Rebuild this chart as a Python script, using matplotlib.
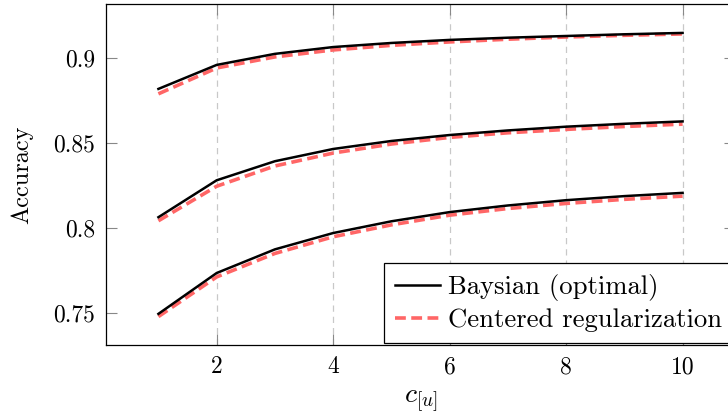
import matplotlib
matplotlib.use("Agg")
import matplotlib.pyplot as plt

plt.rcParams['font.family'] = 'serif'
plt.rcParams['font.serif'] = ['cmr10']
plt.rcParams['mathtext.fontset'] = 'cm'
plt.rcParams['axes.unicode_minus'] = False
plt.rcParams['axes.formatter.use_mathtext'] = True

x = [1, 2, 3, 4, 5, 6, 7, 8, 9, 10]
bayes_top = [0.8818, 0.8959, 0.9024, 0.9064, 0.9088, 0.9106, 0.9119, 0.9129, 0.9139, 0.9147]
reg_top = [0.8789, 0.8941, 0.9006, 0.9047, 0.9074, 0.9094, 0.9110, 0.9123, 0.9133, 0.9141]
bayes_mid = [0.8064, 0.8281, 0.8393, 0.8465, 0.8512, 0.8547, 0.8574, 0.8596, 0.8613, 0.8627]
reg_mid = [0.8043, 0.8246, 0.8365, 0.8441, 0.8494, 0.8533, 0.8560, 0.8580, 0.8597, 0.8611]
bayes_bot = [0.7496, 0.7736, 0.7875, 0.7971, 0.8040, 0.8094, 0.8133, 0.8164, 0.8188, 0.8207]
reg_bot = [0.7480, 0.7713, 0.7851, 0.7949, 0.8019, 0.8076, 0.8115, 0.8145, 0.8169, 0.8188]

xticks = [2, 4, 6, 8, 10]
xtick_labels = ["2", "4", "6", "8", "10"]
yticks = [0.75, 0.8, 0.85, 0.9]
ytick_labels = ["0.75", "0.8", "0.85", "0.9"]

FS = 17
LFS = 19.2
black = "#000000"
red = "#ff6666"

fig = plt.figure(figsize=(7.28, 4.16), dpi=100)
ax = fig.add_axes([106/728, 1-345/416, (735-106)/728, (345-4)/416])

for i, (b, r) in enumerate([(bayes_top, reg_top), (bayes_mid, reg_mid), (bayes_bot, reg_bot)]):
    ax.plot(x, b, color=black, lw=1.8, zorder=4,
            label="Baysian (optimal)" if i == 0 else None)
    ax.plot(x, r, color=red, lw=2.6, dashes=(3, 1.5), zorder=3,
            label="Centered regularization" if i == 0 else None)

ax.set_xlim(0.1, 10.9)
ax.set_ylim(0.7313, 0.9317)
ax.set_xticks(xticks)
ax.set_xticklabels(xtick_labels)
ax.set_yticks(yticks)
ax.set_yticklabels(ytick_labels)
ax.tick_params(direction='in', length=8, width=0.8, color='#888888',
               labelsize=FS, top=True, right=True, pad=8)
ax.xaxis.grid(True, color='#c8c8c8', lw=0.9, linestyle=(0, (5, 4)))
ax.set_axisbelow(True)
for s in ax.spines.values():
    s.set_linewidth(0.9)
    s.set_color('black')

ax.set_xlabel("$c_{[u]}$", fontsize=20, labelpad=7)
ax.set_ylabel("Accuracy", fontsize=17.5, labelpad=14)

leg = ax.legend(loc='lower right', fontsize=LFS, frameon=True, fancybox=False,
                framealpha=1, edgecolor='black', handlelength=1.7,
                handletextpad=0.3, borderpad=0.4, labelspacing=0.28,
                borderaxespad=0.08)
leg.get_frame().set_linewidth(0.9)

fig.savefig("out.png", dpi=100)
